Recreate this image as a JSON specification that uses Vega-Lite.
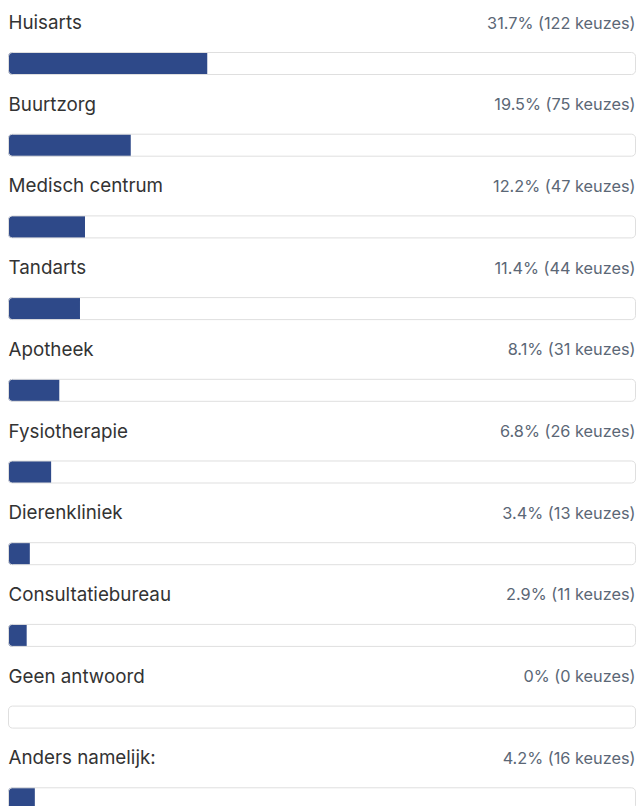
{
  "$schema": "https://vega.github.io/schema/vega-lite/v6.json",
  "width": 637,
  "height": 806,
  "autosize": {"type": "fit", "contains": "padding"},
  "padding": 0,
  "background": "white",
  "config": {"view": {"stroke": null}},
  "data": {
    "values": [
      {"label": "Huisarts", "pct": 31.7, "text": "31.7% (122 keuzes)"},
      {"label": "Buurtzorg", "pct": 19.5, "text": "19.5% (75 keuzes)"},
      {"label": "Medisch centrum", "pct": 12.2, "text": "12.2% (47 keuzes)"},
      {"label": "Tandarts", "pct": 11.4, "text": "11.4% (44 keuzes)"},
      {"label": "Apotheek", "pct": 8.1, "text": "8.1% (31 keuzes)"},
      {"label": "Fysiotherapie", "pct": 6.8, "text": "6.8% (26 keuzes)"},
      {"label": "Dierenkliniek", "pct": 3.4, "text": "3.4% (13 keuzes)"},
      {"label": "Consultatiebureau", "pct": 2.9, "text": "2.9% (11 keuzes)"},
      {"label": "Geen antwoord", "pct": 0, "text": "0% (0 keuzes)"},
      {"label": "Anders namelijk:", "pct": 4.2, "text": "4.2% (16 keuzes)"}
    ]
  },
  "encoding": {
    "y": {"field": "label", "type": "nominal", "sort": null, "axis": null, "scale": {"range": [22.65, 839.65], "paddingInner": 0.7307, "paddingOuter": 0.36535}}
  },
  "layer": [
    {
      "mark": {"type": "bar", "fill": "white", "cornerRadius": 4, "strokeWidth": 0},
      "encoding": {
        "x": {"datum": 100, "type": "quantitative", "axis": null, "stack": null, "scale": {"domain": [0, 100], "range": [8.5, 635.5], "nice": false, "zero": true}}
      }
    },
    {
      "mark": {"type": "bar", "fill": "#2e4989", "cornerRadiusTopLeft": 3, "cornerRadiusBottomLeft": 3},
      "encoding": {
        "x": {"field": "pct", "type": "quantitative", "axis": null, "stack": null}
      }
    },
    {
      "mark": {"type": "bar", "fillOpacity": 0, "stroke": "#dfdfdf", "strokeWidth": 1, "cornerRadius": 4},
      "encoding": {
        "x": {"datum": 100, "type": "quantitative", "axis": null, "stack": null}
      }
    },
    {
      "mark": {"type": "text", "align": "left", "baseline": "alphabetic", "dy": -34.5, "font": "Inter", "fontSize": 18.8, "color": "#333333"},
      "encoding": {
        "x": {"datum": 0, "type": "quantitative", "axis": null},
        "text": {"field": "label"}
      }
    },
    {
      "mark": {"type": "text", "align": "right", "baseline": "alphabetic", "dy": -35, "font": "Inter", "fontSize": 16.3, "color": "#5b6776"},
      "encoding": {
        "x": {"datum": 100, "type": "quantitative", "axis": null},
        "text": {"field": "text"}
      }
    }
  ]
}
